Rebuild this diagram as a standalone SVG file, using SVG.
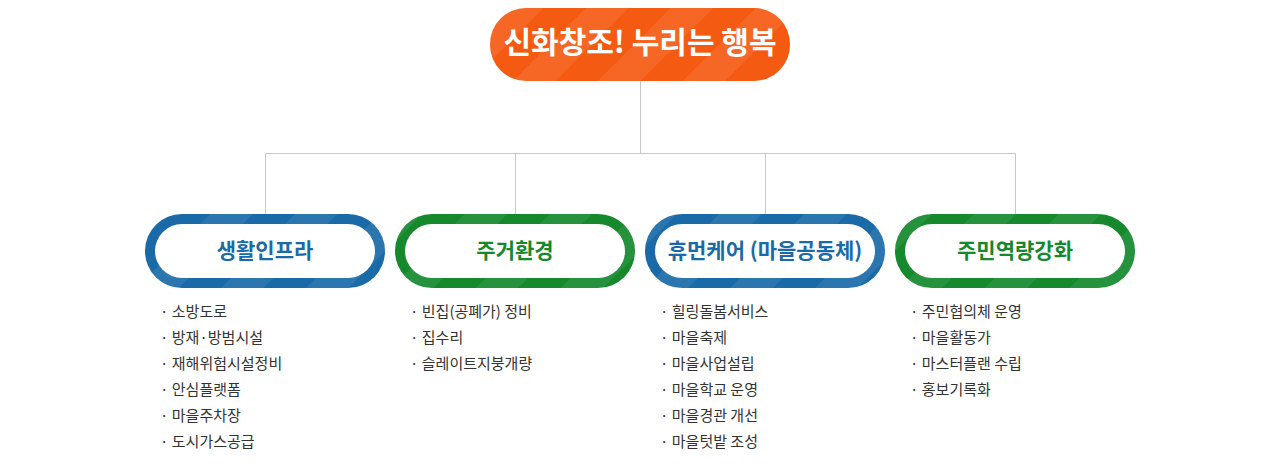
<svg xmlns="http://www.w3.org/2000/svg" width="1280" height="466" viewBox="0 0 1280 466">
<style>
text{font-family:"Noto Sans CJK KR","Noto Sans",sans-serif}
.t{font-size:21px;font-weight:700;text-anchor:middle}
.li{font-size:15px;fill:#333}
.b{fill:#1a6aa8}.g{fill:#15892c}
</style>
<defs>
<pattern id="st" width="60" height="60" patternUnits="userSpaceOnUse" patternTransform="rotate(45)">
<rect width="30" height="60" fill="#ffffff" opacity="0.08"/>
</pattern>
</defs>
<rect width="1280" height="466" fill="#fff"/>
<g id="connectors" stroke="#c8c8c8" stroke-width="1" fill="none">
<path d="M640.5 81V153.5M265.5 153.5H1015.5M265.5 153.5V214M515.5 153.5V214M765.5 153.5V214M1015.5 153.5V214"/>
</g>
<g id="root">
<rect x="490" y="8" width="300" height="73" rx="36" fill="#f55a12"/>
<rect x="490" y="8" width="300" height="73" rx="36" fill="url(#st)"/>
<text x="640" y="53" font-size="30" font-weight="700" fill="#fff" text-anchor="middle">신화창조! 누리는 행복</text>
</g>
<g id="n1">
<rect x="145" y="214" width="240" height="74" rx="37" class="b"/>
<rect x="145" y="214" width="240" height="74" rx="37" fill="url(#st)"/>
<rect x="155" y="224" width="220" height="54" rx="27" fill="#fff"/>
<text x="265" y="258" class="t b">생활인프라</text>
</g>
<g id="n2">
<rect x="395" y="214" width="240" height="74" rx="37" class="g"/>
<rect x="395" y="214" width="240" height="74" rx="37" fill="url(#st)"/>
<rect x="405" y="224" width="220" height="54" rx="27" fill="#fff"/>
<text x="515" y="258" class="t g">주거환경</text>
</g>
<g id="n3">
<rect x="645" y="214" width="240" height="74" rx="37" class="b"/>
<rect x="645" y="214" width="240" height="74" rx="37" fill="url(#st)"/>
<rect x="655" y="224" width="220" height="54" rx="27" fill="#fff"/>
<text x="765" y="258" class="t b">휴먼케어 (마을공동체)</text>
</g>
<g id="n4">
<rect x="895" y="214" width="240" height="74" rx="37" class="g"/>
<rect x="895" y="214" width="240" height="74" rx="37" fill="url(#st)"/>
<rect x="905" y="224" width="220" height="54" rx="27" fill="#fff"/>
<text x="1015" y="258" class="t g">주민역량강화</text>
</g>
<g id="list1" class="li">
<text class="li" x="160" y="317">· 소방도로</text>
<text class="li" x="160" y="343">· 방재·방범시설</text>
<text class="li" x="160" y="369">· 재해위험시설정비</text>
<text class="li" x="160" y="395">· 안심플랫폼</text>
<text class="li" x="160" y="421">· 마을주차장</text>
<text class="li" x="160" y="447">· 도시가스공급</text>
</g>
<g id="list2">
<text class="li" x="410" y="317">· 빈집(공폐가) 정비</text>
<text class="li" x="410" y="343">· 집수리</text>
<text class="li" x="410" y="369">· 슬레이트지붕개량</text>
</g>
<g id="list3">
<text class="li" x="660" y="317">· 힐링돌봄서비스</text>
<text class="li" x="660" y="343">· 마을축제</text>
<text class="li" x="660" y="369">· 마을사업설립</text>
<text class="li" x="660" y="395">· 마을학교 운영</text>
<text class="li" x="660" y="421">· 마을경관 개선</text>
<text class="li" x="660" y="447">· 마을텃밭 조성</text>
</g>
<g id="list4">
<text class="li" x="910" y="317">· 주민협의체 운영</text>
<text class="li" x="910" y="343">· 마을활동가</text>
<text class="li" x="910" y="369">· 마스터플랜 수립</text>
<text class="li" x="910" y="395">· 홍보기록화</text>
</g>
</svg>
